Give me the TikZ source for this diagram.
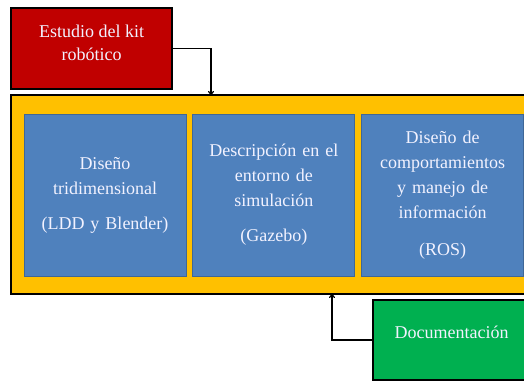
\documentclass[tikz,border=0pt]{standalone}
\usepackage{fontspec}
\setmainfont{Liberation Serif}
\usepackage{tikz}
\usetikzlibrary{arrows.meta, positioning}
\definecolor{boxred}{HTML}{C00000}
\definecolor{boxorange}{HTML}{FFC000}
\definecolor{boxblue}{HTML}{4F81BD}
\definecolor{boxgreen}{HTML}{00B050}
\definecolor{lighttext}{HTML}{F2F2FF}
\begin{document}
\begin{tikzpicture}
[x=1pt, y=-1pt, >={To[length=4pt,width=6pt]}, line width=1.2pt, font=\fontsize{18}{23}\selectfont]
% Define styles for the boxes
\tikzstyle{outer} = [draw=black, line width=1.5pt, rectangle, inner sep=0pt]
\tikzstyle{stage} = [draw=boxblue!80!black, line width=0.8pt, fill=boxblue, rectangle, minimum width=162pt, minimum height=162pt, text width=158pt, align=center, text=lighttext, inner sep=0pt, font=\fontsize{18}{25}\selectfont]
\tikzstyle{task} = [outer, text=lighttext, align=center]

\useasboundingbox (0,0) rectangle (524,381);
\clip (0,0) rectangle (524,381);

% Nodes placement
\node [task, fill=boxorange, minimum width=535pt, minimum height=199pt] (frame) at (278.5,194.5) {};
\node [task, fill=boxred, minimum width=161pt, minimum height=81pt,
  label={[text=lighttext, align=center, yshift=6pt]center:Estudio del kit\\robótico}] (estudio) at (91.5,48.5) {};
\node [task, fill=boxgreen, minimum width=157pt, minimum height=80pt,
  label={[text=lighttext, yshift=8pt]center:Documentación}] (doc) at (451.5,340) {};
\node [stage] (diseno) at (105,195) {Diseño\\tridimensional\\[10pt](LDD y Blender)};
\node [stage, right=6pt of diseno] (gazebo) {Descripción en el\\entorno de\\simulación\\[10pt](Gazebo)};
\node [stage, right=6pt of gazebo] (ros) {Diseño de\\comportamientos\\y manejo de\\información\\[12pt](ROS)};

\coordinate (topin) at (211,95);
\coordinate (botin) at (332,294);

% Draw edges
\draw[->] (estudio.east) -| (topin);
\draw[->] (doc.west) -| (botin);
\end{tikzpicture}
\end{document}
